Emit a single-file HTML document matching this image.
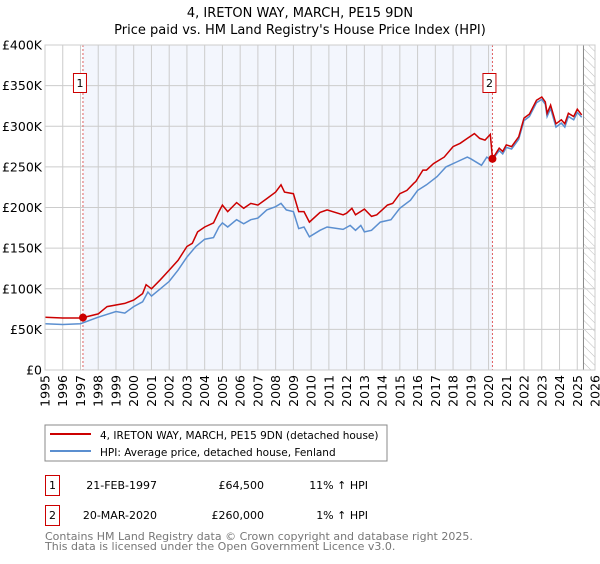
<!DOCTYPE html>
<html><head><meta charset="utf-8">
<style>
body{margin:0;background:#fff;font-family:"DejaVu Sans","Liberation Sans",sans-serif;}
svg text{font-family:"DejaVu Sans","Liberation Sans",sans-serif;}
</style></head>
<body>
<svg id="c" width="600" height="560" xmlns="http://www.w3.org/2000/svg">
<defs><pattern id="hatch" width="6" height="6" patternUnits="userSpaceOnUse" patternTransform="rotate(-45)"><line x1="0" y1="0" x2="0" y2="6" stroke="#bbb" stroke-width="1"/></pattern></defs>
<text x="300" y="17" text-anchor="middle" font-size="13">4, IRETON WAY, MARCH, PE15 9DN</text>
<text x="300" y="34" text-anchor="middle" font-size="13">Price paid vs. HM Land Registry's House Price Index (HPI)</text>
<g id="plot"></g>
<rect x="45" y="425" width="342" height="36" fill="#fff" stroke="#888"/>
<line x1="50" y1="434" x2="91" y2="434" stroke="#cc0000" stroke-width="2"/>
<text x="100" y="439" font-size="10.5">4, IRETON WAY, MARCH, PE15 9DN (detached house)</text>
<line x1="50" y1="451" x2="91" y2="451" stroke="#5b8fd0" stroke-width="2"/>
<text x="100" y="456" font-size="10.5">HPI: Average price, detached house, Fenland</text>
<g font-size="11">
<rect x="45.5" y="475.5" width="14" height="20" fill="#fff" stroke="#cc0000"/>
<text x="52.5" y="489" text-anchor="middle">1</text>
<text x="157" y="489" text-anchor="end">21-FEB-1997</text>
<text x="264" y="489" text-anchor="end">£64,500</text>
<text x="368" y="489" text-anchor="end">11% ↑ HPI</text>
<rect x="45.5" y="505.5" width="14" height="20" fill="#fff" stroke="#cc0000"/>
<text x="52.5" y="519" text-anchor="middle">2</text>
<text x="157" y="519" text-anchor="end">20-MAR-2020</text>
<text x="264" y="519" text-anchor="end">£260,000</text>
<text x="368" y="519" text-anchor="end">1% ↑ HPI</text>
</g>
<text x="45" y="540" font-size="11" fill="#777">Contains HM Land Registry data © Crown copyright and database right 2025.</text>
<text x="45" y="550" font-size="11" fill="#777">This data is licensed under the Open Government Licence v3.0.</text>
</svg>
<script>
const yTicks=[0,50,100,150,200,250,300,350,400];
const yTickLabels=["£0","£50K","£100K","£150K","£200K","£250K","£300K","£350K","£400K"];
const xYears=[1995,1996,1997,1998,1999,2000,2001,2002,2003,2004,2005,2006,2007,2008,2009,2010,2011,2012,2013,2014,2015,2016,2017,2018,2019,2020,2021,2022,2023,2024,2025,2026];
const saleDates=[1997.14,2020.22];
const salePrices=[64.5,260];
const saleLabels=["1","2"];
const redT=[1995,1996,1997,1997.14,1998,1998.5,1999.5,2000,2000.5,2000.7,2001,2001.5,2002,2002.5,2003,2003.3,2003.6,2004,2004.5,2004.8,2005,2005.3,2005.8,2006.2,2006.6,2007,2007.5,2008,2008.3,2008.5,2009,2009.3,2009.6,2009.9,2010.5,2010.9,2011.8,2012,2012.3,2012.5,2013,2013.4,2013.7,2014.3,2014.6,2015,2015.4,2015.8,2015.9,2016.3,2016.5,2016.9,2017.5,2018,2018.4,2018.8,2019.2,2019.5,2019.8,2020.1,2020.22,2020.6,2020.8,2021,2021.3,2021.7,2022,2022.3,2022.7,2023,2023.2,2023.3,2023.5,2023.8,2024.1,2024.3,2024.5,2024.8,2025,2025.25];
const redV=[65,64,64,64.5,69,78,82,86,94,105,100,111,123,135,152,156,170,176,181,195,203,195,206,199,205,203,211,219,228,219,217,195,195,182,194,197,191,193,199,191,198,189,191,203,205,217,221,230,232,246,246,254,262,275,279,285,291,285,283,290,260,273,269,277,275,287,310,315,332,336,330,316,326,303,308,303,316,312,321,314];
const blueT=[1995,1996,1997,1998,1999,1999.5,2000,2000.5,2000.8,2001,2001.5,2002,2002.5,2003,2003.5,2004,2004.5,2004.8,2005,2005.3,2005.8,2006.2,2006.6,2007,2007.5,2008,2008.3,2008.6,2009,2009.3,2009.6,2009.9,2010.5,2010.9,2011.8,2012.2,2012.5,2012.8,2013,2013.4,2013.9,2014.5,2015,2015.6,2016,2016.5,2017.1,2017.6,2018.2,2018.8,2019,2019.6,2019.9,2020.2,2020.6,2020.8,2021,2021.3,2021.7,2022,2022.3,2022.7,2023,2023.2,2023.3,2023.5,2023.8,2024.1,2024.3,2024.5,2024.8,2025,2025.25];
const blueV=[57,56,57,65,72,70,78,84,96,91,100,109,123,139,152,161,163,176,181,176,185,180,185,187,197,201,205,197,195,174,176,164,172,176,173,178,172,178,170,172,182,185,199,209,221,228,238,250,256,262,260,252,262,258,270,266,274,272,284,307,312,329,333,327,312,322,299,304,299,312,308,317,311];

const NS="http://www.w3.org/2000/svg";
const L=45,R=595,T=45,B=370;
const xs=t=>L+(t-1995)/(2026-1995)*(R-L);
const ys=v=>B-v/400*(B-T);
const plot=document.getElementById('plot');
function mk(tag,attrs,parent){const e=document.createElementNS(NS,tag);for(const k in attrs)e.setAttribute(k,attrs[k]);(parent||plot).appendChild(e);return e;}

let e=mk('rect',{x:L,y:T,width:R-L,height:B-T,fill:'#fff'});


e=mk('rect',{x:xs(saleDates[0]),y:T,width:xs(saleDates[1])-xs(saleDates[0]),height:B-T,fill:'#f3f6fd'});


e=mk('rect',{x:xs(2025.35),y:T,width:R-xs(2025.35),height:B-T,fill:'url(#hatch)'});


e=mk('line',{x1:xs(2025.35),x2:xs(2025.35),y1:T,y2:B,stroke:'#888','stroke-width':1});



xYears.forEach(y=>{
  const g=mk('line',{x1:xs(y),x2:xs(y),y1:T,y2:B,stroke:'#ccc','stroke-width':1});
  
  
  const t=mk('text',{x:0,y:0,'font-size':12.5,'text-anchor':'end',transform:`translate(${xs(y)+4.5},${B+5}) rotate(-90)`});
  t.textContent=y;
  
  
});
yTicks.forEach((v,i)=>{
  const g=mk('line',{x1:L,x2:R,y1:ys(v),y2:ys(v),stroke:'#ccc','stroke-width':1});
  
  
  const t=mk('text',{x:L-3,y:ys(v)+4.5,'font-size':12.5,'text-anchor':'end'});
  t.textContent=yTickLabels[i];
  
  
});
saleDates.forEach((d,i)=>{
  const l=mk('line',{x1:xs(d),x2:xs(d),y1:T,y2:B,stroke:'#e06060','stroke-width':1,'stroke-dasharray':'2,2'});
  
  
});
function path(ts,vs){return ts.map((t,i)=>(i?'L':'M')+xs(t).toFixed(1)+','+ys(vs[i]).toFixed(1)).join('');}
e=mk('path',{d:path(blueT,blueV),fill:'none',stroke:'#5b8fd0','stroke-width':1.5});


e=mk('path',{d:path(redT,redV),fill:'none',stroke:'#cc0000','stroke-width':1.5});


saleDates.forEach((d,i)=>{
  const c=mk('circle',{cx:xs(d),cy:ys(salePrices[i]),r:4,fill:'#cc0000'});
  
  
  const r=mk('rect',{x:xs(d)-9.5,y:73.5,width:13,height:19,fill:'#fff',stroke:'#cc0000'});
  
  
  const t=mk('text',{x:xs(d)-3,y:87,'font-size':11,'text-anchor':'middle'});
  t.textContent=saleLabels[i];
  
  
});
e=mk('rect',{x:L,y:T,width:R-L,height:B-T,fill:'none',stroke:'#ccc'});


</script>
</body></html>
